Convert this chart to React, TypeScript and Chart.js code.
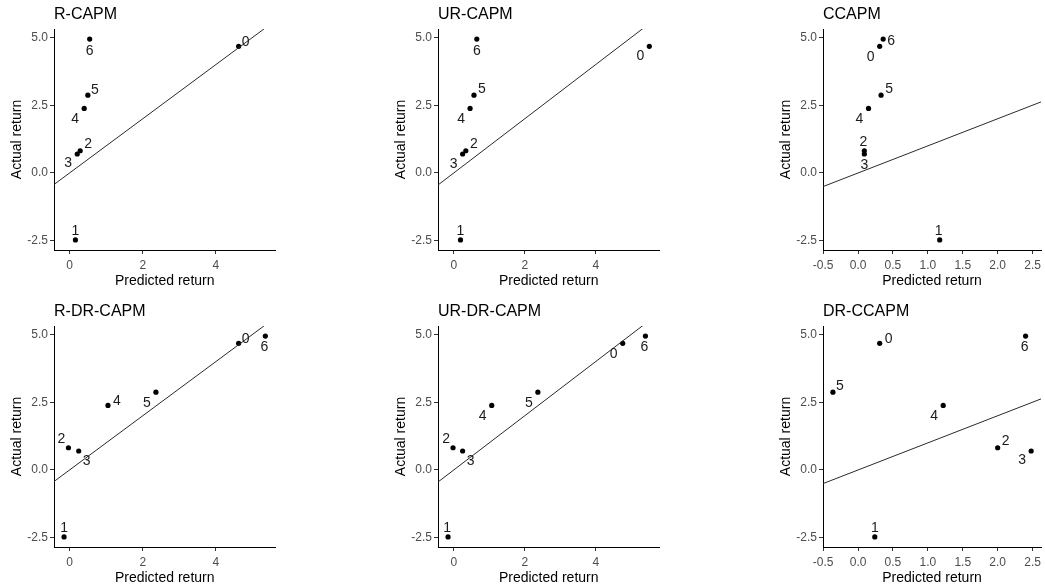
import React, { useEffect, useRef } from 'react';
import { Chart, registerables } from 'chart.js';

Chart.register(...registerables);

// ---------------- data ----------------
const portfolios = ['0', '1', '2', '3', '4', '5', '6'];
const actualReturn = [4.67, -2.47, 0.82, 0.7, 2.38, 2.87, 4.94];

const predRCAPM = [4.62, 0.16, 0.29, 0.21, 0.4, 0.5, 0.55];
const predURCAPM = [5.51, 0.19, 0.34, 0.25, 0.46, 0.57, 0.65];
const predCCAPM = [0.31, 1.17, 0.09, 0.09, 0.15, 0.33, 0.36];
const predRDRCAPM = [4.62, -0.15, -0.03, 0.25, 1.05, 2.36, 5.35];
const predURDRCAPM = [4.76, -0.16, -0.02, 0.25, 1.07, 2.37, 5.4];
const predDRCCAPM = [0.31, 0.24, 2.0, 2.48, 1.22, -0.36, 2.4];

const panelTitles = ['R-CAPM', 'UR-CAPM', 'CCAPM', 'R-DR-CAPM', 'UR-DR-CAPM', 'DR-CCAPM'];
const yTickValues = [-2.5, 0, 2.5, 5];
const xTickValuesWide = [0, 2, 4];
const xTickValuesNarrow = [-0.5, 0, 0.5, 1, 1.5, 2, 2.5];
const xAxisTitle = 'Predicted return';
const yAxisTitle = 'Actual return';

// ---------------- label placement (pixel nudges, per panel, per portfolio) ----------------
const labelNudges: number[][][] = [
  [[7, -5], [0, -9], [8, -7], [-9, 9], [-9, 10], [7, -6], [0, 12]],
  [[-9, 9], [0, -9], [8, -7], [-9, 10], [-9, 10], [8, -7], [0, 12]],
  [[-9, 10], [-1, -9], [-1, -9], [0, 11], [-9, 10], [8, -7], [8, 2]],
  [[7, -5], [0, -9], [-7, -9], [8, 10], [9, -5], [-9, 10], [-1, 11]],
  [[-9, 10], [-1, -9], [-7, -9], [8, 10], [-9, 10], [-9, 10], [-1, 11]],
  [[9, -5], [0, -9], [8, -7], [-9, 9], [-9, 10], [7, -7], [-1, 11]],
];

// ---------------- layout ----------------
const FONT = "'Liberation Sans', Arial, Helvetica, sans-serif";
const colLeft = [54, 438, 823];
const rowTop = [29, 326];
const plotW = 222;
const plotH = 221;
const yAxisW = 54;
const xAxisH = 40;
const padTop = 29;

function expand(vals: number[]) {
  const mn = Math.min(...vals);
  const mx = Math.max(...vals);
  const d = (mx - mn) * 0.05;
  return { min: mn - d, max: mx + d };
}

const colRanges = [
  expand([...predRCAPM, ...predRDRCAPM]),
  expand([...predURCAPM, ...predURDRCAPM]),
  expand([...predCCAPM, ...predDRCCAPM]),
];
const yRange = expand(actualReturn);

const panels = [
  { title: panelTitles[0], pred: predRCAPM, col: 0, row: 0 },
  { title: panelTitles[1], pred: predURCAPM, col: 1, row: 0 },
  { title: panelTitles[2], pred: predCCAPM, col: 2, row: 0 },
  { title: panelTitles[3], pred: predRDRCAPM, col: 0, row: 1 },
  { title: panelTitles[4], pred: predURDRCAPM, col: 1, row: 1 },
  { title: panelTitles[5], pred: predDRCCAPM, col: 2, row: 1 },
];

function Panel({ idx }: { idx: number }) {
  const ref = useRef<HTMLCanvasElement>(null);
  const p = panels[idx];
  const rightPad = p.col === 2 ? 0 : 2;
  const w = yAxisW + plotW + rightPad;
  const h = padTop + plotH + xAxisH;
  const left = colLeft[p.col] - yAxisW;
  const top = rowTop[p.row] - padTop;

  useEffect(() => {
    const xr = colRanges[p.col];
    const narrow = p.col === 2;
    const xTicks = narrow ? xTickValuesNarrow : xTickValuesWide;
    const points = p.pred.map((x, i) => ({ x, y: actualReturn[i] }));
    const nudges = labelNudges[idx];

    const labelPlugin = {
      id: 'pointLabels',
      afterDatasetsDraw(chart: any) {
        const ctx = chart.ctx;
        const meta = chart.getDatasetMeta(1);
        ctx.save();
        ctx.font = `14px ${FONT}`;
        ctx.fillStyle = '#1a1a1a';
        ctx.textAlign = 'center';
        ctx.textBaseline = 'middle';
        meta.data.forEach((el: any, i: number) => {
          const [dx, dy] = nudges[i];
          ctx.fillText(portfolios[i], el.x + dx, el.y + dy + 0.5);
        });
        ctx.restore();
      },
      afterDraw(chart: any) {
        const ctx = chart.ctx;
        ctx.save();
        ctx.font = `16px ${FONT}`;
        ctx.fillStyle = '#000';
        ctx.textAlign = 'left';
        ctx.textBaseline = 'alphabetic';
        ctx.fillText(p.title, chart.chartArea.left, chart.chartArea.top - 10.5);
        ctx.restore();
      },
    };

    const chart = new Chart(ref.current!, {
      type: 'scatter',
      data: {
        datasets: [
          {
            data: [
              { x: xr.min, y: xr.min },
              { x: xr.max, y: xr.max },
            ],
            showLine: true,
            borderColor: '#2a2a2a',
            borderWidth: 1,
            pointRadius: 0,
            pointHoverRadius: 0,
          },
          {
            data: points,
            pointRadius: 2.6,
            pointHoverRadius: 2.6,
            backgroundColor: '#000',
            borderWidth: 0,
          },
        ],
      },
      options: {
        animation: false,
        responsive: false,
        devicePixelRatio: 1,
        events: [],
        layout: { padding: { top: padTop, left: 0, right: rightPad, bottom: 0 } },
        plugins: {
          legend: { display: false },
          tooltip: { enabled: false },
          title: { display: false },
        },
        scales: {
          x: {
            type: 'linear',
            min: xr.min,
            max: xr.max,
            afterBuildTicks: (s: any) => {
              s.ticks = xTicks.map((v) => ({ value: v }));
            },
            afterFit: (s: any) => {
              s.height = xAxisH;
            },
            ticks: {
              autoSkip: false,
              maxRotation: 0,
              padding: 4,
              color: '#4d4d4d',
              font: { family: FONT, size: 12 },
              callback: (v: any) => (narrow ? Number(v).toFixed(1) : String(v)),
            },
            grid: {
              display: true,
              drawOnChartArea: false,
              drawTicks: true,
              tickLength: 4,
              tickColor: '#333',
            },
            border: { display: true, color: '#000', width: 1 },
            title: {
              display: true,
              text: xAxisTitle,
              color: '#000',
              font: { family: FONT, size: 14 },
              padding: { top: 0, bottom: 0 },
            },
          },
          y: {
            type: 'linear',
            min: yRange.min,
            max: yRange.max,
            afterBuildTicks: (s: any) => {
              s.ticks = yTickValues.map((v) => ({ value: v }));
            },
            afterFit: (s: any) => {
              s.width = yAxisW;
            },
            ticks: {
              autoSkip: false,
              padding: 2,
              color: '#4d4d4d',
              font: { family: FONT, size: 12 },
              callback: (v: any) => Number(v).toFixed(1),
            },
            grid: {
              display: true,
              drawOnChartArea: false,
              drawTicks: true,
              tickLength: 4,
              tickColor: '#333',
            },
            border: { display: true, color: '#000', width: 1 },
            title: {
              display: true,
              text: yAxisTitle,
              color: '#000',
              font: { family: FONT, size: 14 },
              padding: { top: 8.6, bottom: 0 },
            },
          },
        },
      } as any,
      plugins: [labelPlugin],
    });
    return () => chart.destroy();
  }, []);

  return (
    <canvas
      ref={ref}
      width={w}
      height={h}
      style={{ position: 'absolute', left, top, width: w, height: h }}
    />
  );
}

export default function App() {
  return (
    <div
      style={{
        position: 'fixed',
        left: 0,
        top: 0,
        width: 1045,
        height: 588,
        background: '#fff',
        overflow: 'hidden',
      }}
    >
      {panels.map((_, i) => (
        <Panel key={i} idx={i} />
      ))}
    </div>
  );
}
